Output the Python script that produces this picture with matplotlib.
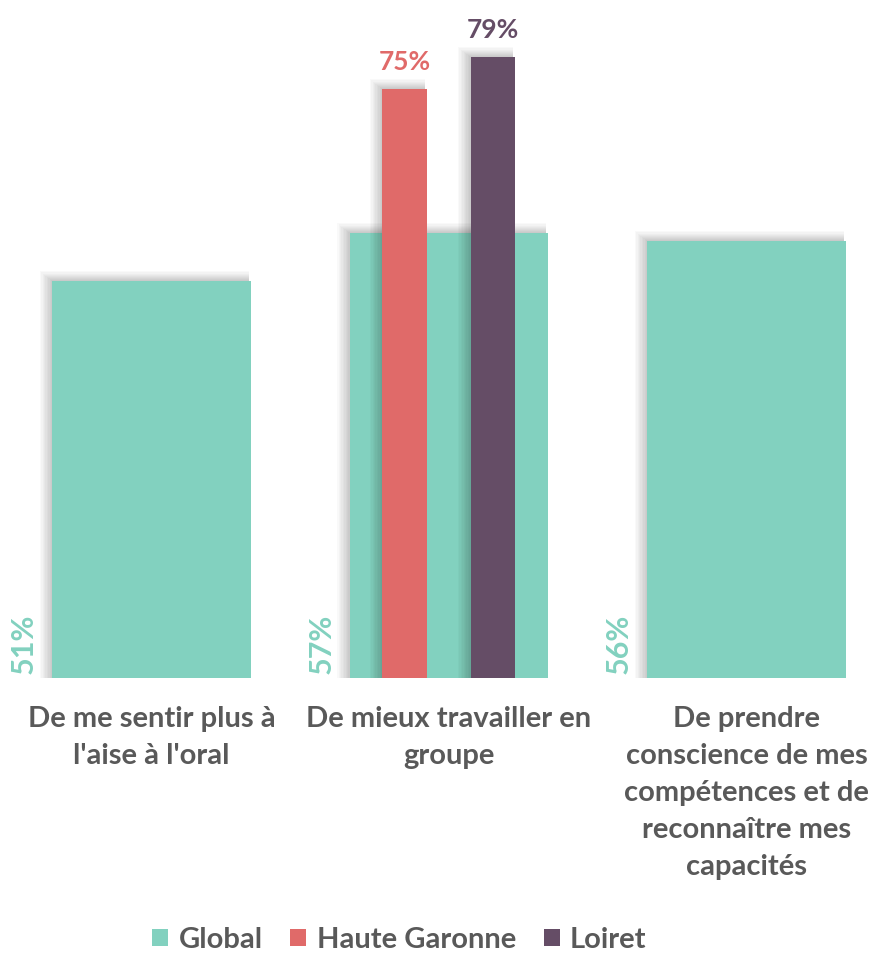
import numpy as np
import matplotlib.pyplot as plt

categories = ["De me sentir plus à\nl'aise à l'oral",
              "De mieux travailler en\ngroupe",
              "De prendre\nconscience de mes\ncompétences et de\nreconnaître mes\ncapacités"]
global_vals = [51, 57, 56]
haute_garonne = [0, 75, 0]
loiret = [0, 79, 0]
series_names = ['Global', 'Haute Garonne', 'Loiret']

teal = '#82D1BF'
red = '#E06A69'
purple = '#654D66'
gray = '#595959'

fig = plt.figure(figsize=(8.72, 9.55), dpi=100)
ax = fig.add_axes([0, 0.29, 1, 0.6995])

x = np.arange(len(categories))
xpx = 1 / 297.5   # one pixel in x data units
ypx = 1 / 8.0     # one pixel in y data units

def shadowed_bars(xs, vals, width, color, z):
	# soft drop shadow: stacked translucent bars reaching out to the left and up
	for k in range(1, 10):
		for xi, v in zip(xs, vals):
			if v <= 0:
				continue
			left = xi - width / 2 - k * 1.4 * xpx
			ax.bar(left, v + k * 1.1 * ypx, width + k * 1.4 * xpx - 2 * xpx, align='edge',
				color='black', alpha=0.022, linewidth=0, zorder=z - 1)
	keep = [v if v > 0 else np.nan for v in vals]
	return ax.bar(xs, keep, width, color=color, linewidth=0, zorder=z)

gw = 0.666
sw = 0.151
off = 0.148
b1 = shadowed_bars(x, global_vals, gw, teal, 2)
b2 = shadowed_bars(x - off, haute_garonne, sw, red, 4)
b3 = shadowed_bars(x + off, loiret, sw, purple, 6)

ylo = 1.4
ax.set_ylim(ylo, 84.9)
ax.set_xlim(-0.509, 2.422)

# rotated labels for Global at the bottom left of each bar
for xi, v in zip(x, global_vals):
	ax.text(xi - gw / 2 - 0.095, ylo + 0.5, f'{v}%', rotation=90, ha='center', va='bottom',
		color=teal, fontsize=22, family='Lato', fontweight='bold')

for xs, vals, c in [(x - off, haute_garonne, red), (x + off, loiret, purple)]:
	for xi, v in zip(xs, vals):
		if v > 0:
			ax.annotate(f'{v}%', (xi, v), xytext=(0, 11), textcoords='offset points',
				ha='center', va='bottom', color=c, fontsize=19, family='Lato', fontweight='bold')

ax.set_xticks(x)
ax.set_xticklabels(categories, fontsize=21, family='Lato', fontweight='bold', color=gray,
	linespacing=1.52)
ax.tick_params(axis='x', length=0, pad=20)
ax.set_yticks([])
for s in ax.spines.values():
	s.set_visible(False)
ax.patch.set_alpha(0)

fig.legend([b1, b2, b3], series_names, loc='center', bbox_to_anchor=(0.458, 0.016),
	ncol=3, frameon=False, handlelength=0.55, handleheight=0.55, handletextpad=0.35,
	columnspacing=0.95, prop={'family': 'Lato', 'weight': 'bold', 'size': 21},
	labelcolor=gray)

fig.savefig('out.png', dpi=100)
